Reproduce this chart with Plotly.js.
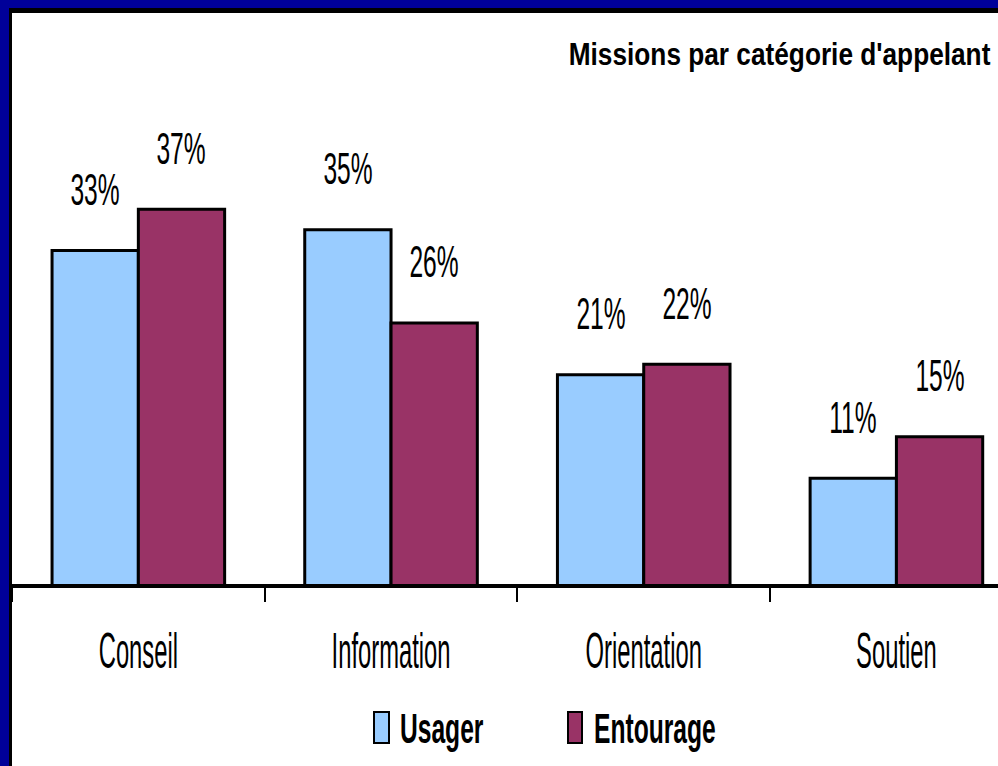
<!DOCTYPE html>
<html>
<head>
<meta charset="utf-8">
<script src="https://cdn.plot.ly/plotly-3.0.1.min.js"></script>
<style>
  html, body { margin: 0; padding: 0; background: #ffffff; }
  #chart { width: 998px; height: 766px; }
</style>
</head>
<body>
<div id="chart"></div>
<script>
// ---- Data ----
const categories = ['Conseil', 'Information', 'Orientation', 'Soutien'];
const usager = [33, 35, 21, 11];
const entourage = [37, 26, 22, 15];
const seriesNames = ['Usager', 'Entourage'];
const chartTitle = "Missions par catégorie d'appelant";

// ---- Styling ----
const FONT = "'Liberation Sans', Arial, sans-serif";
const NARROW = 0.82; // horizontal compression to mimic a narrow face
const colors = ['#99CCFF', '#993366'];
const NAVY = '#000099';

// pixel -> paper helpers (plot area: x 12..998, y 13..584)
const PL = 12, PW = 986, PB = 584, PH = 571;
const px = X => (X - PL) / PW;
const py = Y => (PB - Y) / PH;

const series = [usager, entourage];
const traces = series.map((vals, k) => ({
  type: 'bar',
  name: seriesNames[k],
  x: categories,
  y: vals,
  marker: { color: colors[k], line: { color: '#000000', width: 3 } },
  hoverinfo: 'none',
  showlegend: false
}));

const annotations = [];
const stretchSpec = [];
const offs = [-43.1, 43.1];
series.forEach((vals, k) => {
  vals.forEach((v, i) => {
    annotations.push({
      x: categories[i], y: v, xref: 'x', yref: 'y',
      xshift: offs[k], yshift: 61,
      text: v + '%', showarrow: false,
      xanchor: 'center', yanchor: 'middle',
      font: { family: FONT, size: 30, color: '#000000' }
    });
    stretchSpec.push([NARROW, 1.47, 'center']);
  });
});

// title
annotations.push({
  x: px(993), y: py(54), xref: 'paper', yref: 'paper',
  text: chartTitle, showarrow: false, xanchor: 'right', yanchor: 'middle',
  font: { family: FONT, size: 32, color: '#000000', weight: 'bold' }
});
stretchSpec.push([NARROW, 1.0, 'right']);

// legend labels
const legendTextX = [398, 592];
seriesNames.forEach((n, k) => {
  annotations.push({
    x: px(legendTextX[k]), y: py(727.5), xref: 'paper', yref: 'paper',
    text: n, showarrow: false, xanchor: 'left', yanchor: 'middle',
    font: { family: FONT, size: 30, color: '#000000', weight: 'bold' }
  });
  stretchSpec.push([NARROW, 1.44, 'left']);
});

const rectPx = (x0, y0, x1, y1, fill, lw) => ({
  type: 'rect', xref: 'paper', yref: 'paper', layer: 'above',
  x0: px(x0), x1: px(x1), y0: py(y1), y1: py(y0),
  fillcolor: fill, line: { color: '#000000', width: lw || 0 }
});

const shapes = [
  rectPx(0, 0, 998, 8, NAVY),
  rectPx(0, 0, 9, 766, NAVY),
  rectPx(9, 8, 998, 13, '#000000'),
  rectPx(9, 8, 12, 766, '#000000'),
  rectPx(374, 712, 389, 743, colors[0], 2),
  rectPx(568, 712, 582, 743, colors[1], 2)
];

const layout = {
  width: 998, height: 766,
  margin: { l: PL, r: 0, t: 13, b: 766 - PB, pad: 0 },
  paper_bgcolor: '#ffffff', plot_bgcolor: '#ffffff',
  barmode: 'group', bargap: 0.317, bargroupgap: 0,
  showlegend: false,
  xaxis: {
    type: 'category', range: [-0.5, 3.402],
    showline: true, linecolor: '#000000', linewidth: 3.5,
    ticks: 'outside', tickson: 'boundaries', ticklen: 14, tickwidth: 2, tickcolor: '#000000',
    showgrid: false, zeroline: false,
    tickfont: { family: FONT, size: 29, color: '#000000' },
    ticklabelstandoff: 39,
    fixedrange: true
  },
  yaxis: {
    range: [0.773, 55.96], visible: false, showgrid: false, zeroline: false, fixedrange: true
  },
  annotations: annotations,
  shapes: shapes
};

function stretch(el, sx, sy, origin) {
  if (!el) return;
  const bb = el.getBBox();
  let ox = bb.x + bb.width / 2;
  if (origin === 'left') ox = bb.x;
  if (origin === 'right') ox = bb.x + bb.width;
  const oy = bb.y + bb.height / 2;
  const t = el.getAttribute('transform') || '';
  el.setAttribute('transform', t + ' translate(' + ox + ',' + oy + ') scale(' + sx + ',' + sy + ') translate(' + (-ox) + ',' + (-oy) + ')');
}

Plotly.newPlot('chart', traces, layout, { staticPlot: true, displayModeBar: false }).then(gd => {
  gd.querySelectorAll('g.annotation').forEach(g => {
    const s = stretchSpec[+g.getAttribute('data-index')];
    if (s) stretch(g.querySelector('text.annotation-text'), s[0], s[1], s[2]);
  });
  gd.querySelectorAll('g.xtick text').forEach(t => stretch(t, NARROW, 1.7, 'center'));
});
</script>
</body>
</html>
